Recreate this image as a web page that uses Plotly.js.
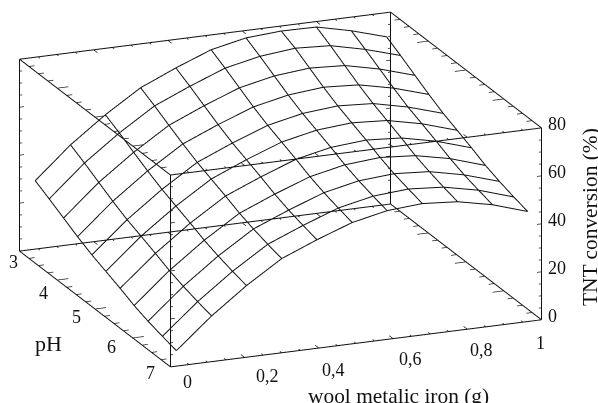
<!DOCTYPE html>
<html>
<head>
<meta charset="utf-8">
<script src="https://cdn.plot.ly/plotly-3.0.1.min.js"></script>
<style>html,body{margin:0;padding:0;background:#fff}#c{width:598px;height:403px}</style>
</head>
<body>
<div id="c"></div>
<script>
const woolIron = [0.02,0.115,0.209,0.304,0.399,0.494,0.588,0.683,0.778,0.872,0.967];
const pHValues = [6.96,6.59,6.21,5.84,5.47,5.09,4.72,4.34,3.97,3.59,3.22];
const conversion = [
 [5.9,18.5,29.3,38.7,44.7,50,53.1,54.2,53.1,50,45.3],
 [7.4,20,30.8,40.2,46.2,51.6,54.7,55.8,54.7,51.6,46.9],
 [9.1,21.8,32.6,42,48,53.4,56.5,57.6,56.6,53.4,48.8],
 [11.2,23.9,34.7,44.1,50.2,55.6,58.7,59.9,58.8,55.7,51],
 [13.9,26.6,37.4,46.8,52.9,58.4,61.5,62.7,61.7,58.5,53.9],
 [16.4,29.2,39.9,49.3,55.5,61,64.1,65.3,64.4,61.2,56.6],
 [18.8,31.6,42.4,51.8,58,63.5,66.6,67.9,67,63.7,59.2],
 [21.8,34.7,45.5,54.9,61.1,66.6,69.7,71.1,70.2,67,62.5],
 [25.1,38.1,48.8,58.2,64.5,70.1,73.2,74.6,73.8,70.5,66],
 [28.5,41.6,52.3,61.7,68,73.7,76.8,78.3,77.5,74.1,69.7],
 [31.6,44.7,55.4,64.8,71.2,76.9,80,81,80.8,77.4,73]
];
const woolTicks = [0,0.2,0.4,0.6,0.8,1];
const woolLabels = ["0","0,2","0,4","0,6","0,8","1"];
const pHTicks = [3,4,5,6,7];
const zTicks = [0,20,40,60,80];
const woolRange = [0,1], pHRange = [3,7], zRange = [0,80];
const woolMinor = 0.05, pHMinor = 0.25, zMinor = 5;

const wire = {color:'#111', width:2};
const traces = [];
pHValues.forEach((p,j)=>traces.push({type:'scatter3d',mode:'lines',line:wire,showlegend:false,hoverinfo:'skip',
  x:woolIron, y:woolIron.map(()=>p), z:conversion[j]}));
woolIron.forEach((w,i)=>traces.push({type:'scatter3d',mode:'lines',line:wire,showlegend:false,hoverinfo:'skip',
  x:pHValues.map(()=>w), y:pHValues, z:conversion.map(r=>r[i])}));

// box edges and ticks at the axis ranges
const bx=[],by=[],bz=[], tx=[],ty=[],tz=[];
const seg=(A,a,b,c,d,e,f)=>{A[0].push(a,d,null);A[1].push(b,e,null);A[2].push(c,f,null);};
const B=[bx,by,bz], T=[tx,ty,tz];
pHRange.forEach(p=>zRange.forEach(z=>seg(B,0,p,z,1,p,z)));
woolRange.forEach(w=>zRange.forEach(z=>seg(B,w,3,z,w,7,z)));
woolRange.forEach(w=>pHRange.forEach(p=>seg(B,w,p,0,w,p,80)));
for(let k=0;k<=20;k++){const w=k*woolMinor,l=(k%4===0?0.1:0.05);
  pHRange.forEach(p=>zRange.forEach(z=>seg(T,w,p,z,w,p===3?p+l:p-l,z)));}
for(let k=0;k<=16;k++){const p=3+k*pHMinor,l=(k%4===0?0.03:0.015);
  woolRange.forEach(w=>zRange.forEach(z=>seg(T,w,p,z,w===0?w+l:w-l,p,z)));}
for(let k=0;k<=16;k++){const z=k*zMinor,l=(k%4===0?0.012:0.007);
  woolRange.forEach(w=>pHRange.forEach(p=>seg(T,w,p,z,w===0?w+l:w-l,p,z)));}
traces.push({type:'scatter3d',mode:'lines',line:{color:'#111',width:2},showlegend:false,hoverinfo:'skip',x:bx,y:by,z:bz});
traces.push({type:'scatter3d',mode:'lines',line:{color:'#222',width:1.5},showlegend:false,hoverinfo:'skip',x:tx,y:ty,z:tz});

const font = {family:'"Liberation Serif", serif', size:18, color:'#111'};
const off = {
  wool:[[17,15],[23,19],[15,22],[17,21],[14,21],[-1,23]],
  pH:[[-6,11],[-14,13],[-18,8],[-21,9],[-20,6]]
};
const sceneAnn = [];
const ann = (x,y,z,text,dx,dy)=>sceneAnn.push({x,y,z,text,showarrow:false,font,xshift:dx,yshift:-dy,xanchor:'center',yanchor:'middle'});
woolTicks.forEach((w,i)=>ann(w,7,0,woolLabels[i],off.wool[i][0],off.wool[i][1]));
pHTicks.forEach((p,i)=>ann(0,p,0,String(p),off.pH[i][0],off.pH[i][1]));
zTicks.forEach(z=>ann(1,7,z,String(z),z===0?11:16,-4));

const axisBase = {showgrid:false,zeroline:false,showbackground:false,showline:false,ticks:'',showticklabels:false,showspikes:false,title:{text:''}};

const layout = {
  width:598,height:403,paper_bgcolor:'#fff',margin:{l:0,r:0,t:0,b:0},showlegend:false,
  scene:{
    domain:{x:[0,0.938],y:[0.06,1]},
    aspectmode:'manual',aspectratio:{x:2.156,y:2.156,z:1.119},
    camera:{projection:{type:'orthographic'},center:{x:0,y:0,z:0},up:{x:0,y:0,z:1},
      eye:{x:-0.716,y:-1.76,z:0.624}},
    xaxis:{...axisBase,range:[-0.01,1.01]},
    yaxis:{...axisBase,range:[7.04,2.96]},
    zaxis:{...axisBase,range:[-2,82]},
    annotations:sceneAnn
  },
  annotations:[
    {xref:'paper',yref:'paper',x:398/598,y:1-396/403,xanchor:'center',yanchor:'middle',text:'wool metalic iron (g)',showarrow:false,font:{...font,size:21.4}},
    {xref:'paper',yref:'paper',x:590/598,y:1-217/403,xanchor:'center',yanchor:'middle',text:'TNT conversion (%)',showarrow:false,textangle:-90,font:{...font,size:21.4}},
    {xref:'paper',yref:'paper',x:48/598,y:1-343/403,xanchor:'center',yanchor:'middle',text:'pH',showarrow:false,font:{...font,size:22}}
  ]
};
Plotly.newPlot('c',traces,layout,{displayModeBar:false});
</script>
</body>
</html>
